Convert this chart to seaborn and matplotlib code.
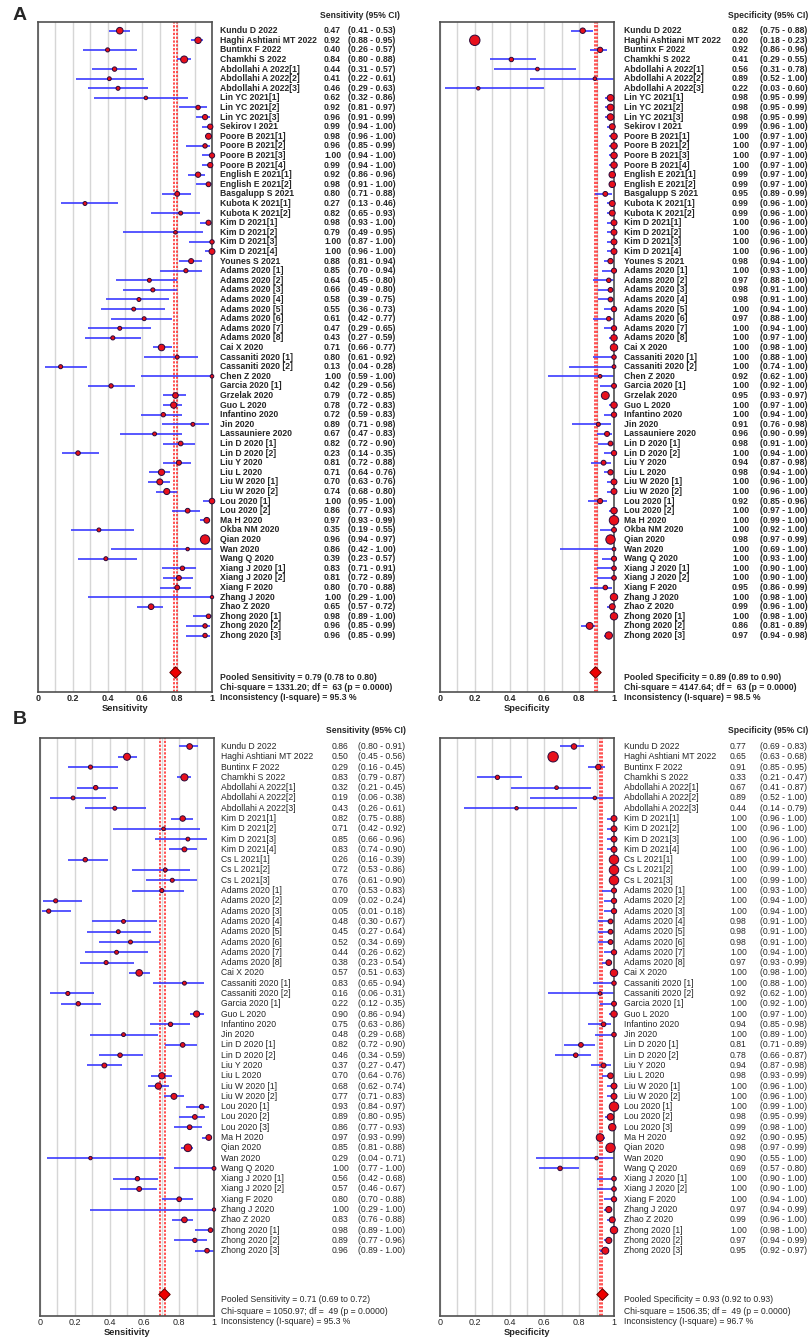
import numpy as np
import matplotlib
matplotlib.use("Agg")
import matplotlib.pyplot as plt
import seaborn as sns

# ---------------- Panel A data (64 studies) ----------------
a_studies = [
    "Kundu D 2022", "Haghi Ashtiani MT 2022", "Buntinx F 2022", "Chamkhi S 2022",
    "Abdollahi A 2022[1]", "Abdollahi A 2022[2]", "Abdollahi A 2022[3]",
    "Lin YC 2021[1]", "Lin YC 2021[2]", "Lin YC 2021[3]", "Sekirov I 2021",
    "Poore B 2021[1]", "Poore B 2021[2]", "Poore B 2021[3]", "Poore B 2021[4]",
    "English E 2021[1]", "English E 2021[2]", "Basgalupp S 2021",
    "Kubota K 2021[1]", "Kubota K 2021[2]",
    "Kim D 2021[1]", "Kim D 2021[2]", "Kim D 2021[3]", "Kim D 2021[4]",
    "Younes S 2021",
    "Adams 2020 [1]", "Adams 2020 [2]", "Adams 2020 [3]", "Adams 2020 [4]",
    "Adams 2020 [5]", "Adams 2020 [6]", "Adams 2020 [7]", "Adams 2020 [8]",
    "Cai X 2020", "Cassaniti 2020 [1]", "Cassaniti 2020 [2]", "Chen Z 2020",
    "Garcia 2020 [1]", "Grzelak 2020", "Guo L 2020", "Infantino 2020", "Jin 2020",
    "Lassauniere 2020", "Lin D 2020 [1]", "Lin D 2020 [2]", "Liu Y 2020", "Liu L 2020",
    "Liu W 2020 [1]", "Liu W 2020 [2]", "Lou 2020 [1]", "Lou 2020 [2]", "Ma H 2020",
    "Okba NM 2020", "Qian 2020", "Wan 2020", "Wang Q 2020",
    "Xiang J 2020 [1]", "Xiang J 2020 [2]", "Xiang F 2020", "Zhang J 2020",
    "Zhao Z 2020", "Zhong 2020 [1]", "Zhong 2020 [2]", "Zhong 2020 [3]",
]
a_sens = [0.47, 0.92, 0.40, 0.84, 0.44, 0.41, 0.46, 0.62, 0.92, 0.96, 0.99,
          0.98, 0.96, 1.00, 0.99, 0.92, 0.98, 0.80, 0.27, 0.82,
          0.98, 0.79, 1.00, 1.00, 0.88,
          0.85, 0.64, 0.66, 0.58, 0.55, 0.61, 0.47, 0.43,
          0.71, 0.80, 0.13, 1.00, 0.42, 0.79, 0.78, 0.72, 0.89,
          0.67, 0.82, 0.23, 0.81, 0.71, 0.70, 0.74, 1.00, 0.86, 0.97,
          0.35, 0.96, 0.86, 0.39, 0.83, 0.81, 0.80, 1.00,
          0.65, 0.98, 0.96, 0.96]
a_sens_lo = [0.41, 0.88, 0.26, 0.80, 0.31, 0.22, 0.29, 0.32, 0.81, 0.91, 0.94,
             0.96, 0.85, 0.94, 0.94, 0.86, 0.91, 0.71, 0.13, 0.65,
             0.93, 0.49, 0.87, 0.96, 0.81,
             0.70, 0.45, 0.49, 0.39, 0.36, 0.42, 0.29, 0.27,
             0.66, 0.61, 0.04, 0.59, 0.29, 0.72, 0.72, 0.59, 0.71,
             0.47, 0.72, 0.14, 0.72, 0.64, 0.63, 0.68, 0.95, 0.77, 0.93,
             0.19, 0.94, 0.42, 0.23, 0.71, 0.72, 0.70, 0.29,
             0.57, 0.89, 0.85, 0.85]
a_sens_hi = [0.53, 0.95, 0.57, 0.88, 0.57, 0.61, 0.63, 0.86, 0.97, 0.99, 1.00,
             1.00, 0.99, 1.00, 1.00, 0.96, 1.00, 0.88, 0.46, 0.93,
             1.00, 0.95, 1.00, 1.00, 0.94,
             0.94, 0.80, 0.80, 0.75, 0.73, 0.77, 0.65, 0.59,
             0.77, 0.92, 0.28, 1.00, 0.56, 0.85, 0.83, 0.83, 0.98,
             0.83, 0.90, 0.35, 0.88, 0.76, 0.76, 0.80, 1.00, 0.93, 0.99,
             0.55, 0.97, 1.00, 0.57, 0.91, 0.89, 0.88, 1.00,
             0.72, 1.00, 0.99, 0.99]
a_spec = [0.82, 0.20, 0.92, 0.41, 0.56, 0.89, 0.22, 0.98, 0.98, 0.98, 0.99,
          1.00, 1.00, 1.00, 1.00, 0.99, 0.99, 0.95, 0.99, 0.99,
          1.00, 1.00, 1.00, 1.00, 0.98,
          1.00, 0.97, 0.98, 0.98, 1.00, 0.97, 1.00, 1.00,
          1.00, 1.00, 1.00, 0.92, 1.00, 0.95, 1.00, 1.00, 0.91,
          0.96, 0.98, 1.00, 0.94, 0.98, 1.00, 1.00, 0.92, 1.00, 1.00,
          1.00, 0.98, 1.00, 1.00, 1.00, 1.00, 0.95, 1.00,
          0.99, 1.00, 0.86, 0.97]
a_spec_lo = [0.75, 0.18, 0.86, 0.29, 0.31, 0.52, 0.03, 0.95, 0.95, 0.95, 0.96,
             0.97, 0.97, 0.97, 0.97, 0.97, 0.97, 0.89, 0.96, 0.96,
             0.96, 0.96, 0.96, 0.96, 0.94,
             0.93, 0.88, 0.91, 0.91, 0.94, 0.88, 0.94, 0.97,
             0.98, 0.88, 0.74, 0.62, 0.92, 0.93, 0.97, 0.94, 0.76,
             0.90, 0.91, 0.94, 0.87, 0.94, 0.96, 0.96, 0.85, 0.97, 0.99,
             0.92, 0.97, 0.69, 0.93, 0.90, 0.90, 0.86, 0.98,
             0.96, 0.98, 0.81, 0.94]
a_spec_hi = [0.88, 0.23, 0.96, 0.55, 0.78, 1.00, 0.60, 0.99, 0.99, 0.99, 1.00,
             1.00, 1.00, 1.00, 1.00, 1.00, 1.00, 0.99, 1.00, 1.00,
             1.00, 1.00, 1.00, 1.00, 1.00,
             1.00, 1.00, 1.00, 1.00, 1.00, 1.00, 1.00, 1.00,
             1.00, 1.00, 1.00, 1.00, 1.00, 0.97, 1.00, 1.00, 0.98,
             0.99, 1.00, 1.00, 0.98, 1.00, 1.00, 1.00, 0.96, 1.00, 1.00,
             1.00, 0.99, 1.00, 1.00, 1.00, 1.00, 0.99, 1.00,
             1.00, 1.00, 0.89, 0.98]

# ---------------- Panel B data (50 studies) ----------------
b_studies = [
    "Kundu D 2022", "Haghi Ashtiani MT 2022", "Buntinx F 2022", "Chamkhi S 2022",
    "Abdollahi A 2022[1]", "Abdollahi A 2022[2]", "Abdollahi A 2022[3]",
    "Kim D 2021[1]", "Kim D 2021[2]", "Kim D 2021[3]", "Kim D 2021[4]",
    "Cs L 2021[1]", "Cs L 2021[2]", "Cs L 2021[3]",
    "Adams 2020 [1]", "Adams 2020 [2]", "Adams 2020 [3]", "Adams 2020 [4]",
    "Adams 2020 [5]", "Adams 2020 [6]", "Adams 2020 [7]", "Adams 2020 [8]",
    "Cai X 2020", "Cassaniti 2020 [1]", "Cassaniti 2020 [2]", "Garcia 2020 [1]",
    "Guo L 2020", "Infantino 2020", "Jin 2020", "Lin D 2020 [1]", "Lin D 2020 [2]",
    "Liu Y 2020", "Liu L 2020", "Liu W 2020 [1]", "Liu W 2020 [2]",
    "Lou 2020 [1]", "Lou 2020 [2]", "Lou 2020 [3]", "Ma H 2020", "Qian 2020",
    "Wan 2020", "Wang Q 2020", "Xiang J 2020 [1]", "Xiang J 2020 [2]",
    "Xiang F 2020", "Zhang J 2020", "Zhao Z 2020",
    "Zhong 2020 [1]", "Zhong 2020 [2]", "Zhong 2020 [3]",
]
b_sens = [0.86, 0.50, 0.29, 0.83, 0.32, 0.19, 0.43, 0.82, 0.71, 0.85, 0.83,
          0.26, 0.72, 0.76, 0.70, 0.09, 0.05, 0.48, 0.45, 0.52, 0.44, 0.38,
          0.57, 0.83, 0.16, 0.22, 0.90, 0.75, 0.48, 0.82, 0.46,
          0.37, 0.70, 0.68, 0.77, 0.93, 0.89, 0.86, 0.97, 0.85,
          0.29, 1.00, 0.56, 0.57, 0.80, 1.00, 0.83, 0.98, 0.89, 0.96]
b_sens_lo = [0.80, 0.45, 0.16, 0.79, 0.21, 0.06, 0.26, 0.75, 0.42, 0.66, 0.74,
             0.16, 0.53, 0.61, 0.53, 0.02, 0.01, 0.30, 0.27, 0.34, 0.26, 0.23,
             0.51, 0.65, 0.06, 0.12, 0.86, 0.63, 0.29, 0.72, 0.34,
             0.27, 0.64, 0.62, 0.71, 0.84, 0.80, 0.77, 0.93, 0.81,
             0.04, 0.77, 0.42, 0.46, 0.70, 0.29, 0.76, 0.89, 0.77, 0.89]
b_sens_hi = [0.91, 0.56, 0.45, 0.87, 0.45, 0.38, 0.61, 0.88, 0.92, 0.96, 0.90,
             0.39, 0.86, 0.90, 0.83, 0.24, 0.18, 0.67, 0.64, 0.69, 0.62, 0.54,
             0.63, 0.94, 0.31, 0.35, 0.94, 0.86, 0.68, 0.90, 0.59,
             0.47, 0.76, 0.74, 0.83, 0.97, 0.95, 0.93, 0.99, 0.88,
             0.71, 1.00, 0.68, 0.67, 0.88, 1.00, 0.88, 1.00, 0.96, 1.00]
b_spec = [0.77, 0.65, 0.91, 0.33, 0.67, 0.89, 0.44, 1.00, 1.00, 1.00, 1.00,
          1.00, 1.00, 1.00, 1.00, 1.00, 1.00, 0.98, 0.98, 0.98, 1.00, 0.97,
          1.00, 1.00, 0.92, 1.00, 1.00, 0.94, 1.00, 0.81, 0.78,
          0.94, 0.98, 1.00, 1.00, 1.00, 0.98, 0.99, 0.92, 0.98,
          0.90, 0.69, 1.00, 1.00, 1.00, 0.97, 0.99, 1.00, 0.97, 0.95]
b_spec_lo = [0.69, 0.63, 0.85, 0.21, 0.41, 0.52, 0.14, 0.96, 0.96, 0.96, 0.96,
             0.99, 0.99, 0.99, 0.93, 0.94, 0.94, 0.91, 0.91, 0.91, 0.94, 0.93,
             0.98, 0.88, 0.62, 0.92, 0.97, 0.85, 0.89, 0.71, 0.66,
             0.87, 0.93, 0.96, 0.96, 0.99, 0.95, 0.98, 0.90, 0.97,
             0.55, 0.57, 0.90, 0.90, 0.94, 0.94, 0.96, 0.98, 0.94, 0.92]
b_spec_hi = [0.83, 0.68, 0.95, 0.47, 0.87, 1.00, 0.79, 1.00, 1.00, 1.00, 1.00,
             1.00, 1.00, 1.00, 1.00, 1.00, 1.00, 1.00, 1.00, 1.00, 1.00, 0.99,
             1.00, 1.00, 1.00, 1.00, 1.00, 0.98, 1.00, 0.89, 0.87,
             0.98, 0.99, 1.00, 1.00, 1.00, 0.99, 1.00, 0.95, 0.99,
             1.00, 0.80, 1.00, 1.00, 1.00, 0.99, 1.00, 1.00, 0.99, 0.97]

# pooled estimates: (estimate, lower, upper, chi-square, df, I-square)
a_sens_pooled = (0.79, 0.78, 0.80, "1331.20", 63, "95.3")
a_spec_pooled = (0.89, 0.89, 0.90, "4147.64", 63, "98.5")
b_sens_pooled = (0.71, 0.69, 0.72, "1050.97", 49, "95.3")
b_spec_pooled = (0.93, 0.92, 0.93, "1506.35", 49, "96.7")

tick_vals = [0, 0.2, 0.4, 0.6, 0.8, 1]
tick_labels = ["0", "0.2", "0.4", "0.6", "0.8", "1"]

sns.set_style("white")
plt.rcParams['font.family'] = ['Liberation Sans', 'DejaVu Sans']

W, H = 811, 1339
fig = plt.figure(figsize=(W / 100, H / 100), dpi=100)

BOX_W = 174


def make_axes(left_px, top_px, bottom_px):
    return fig.add_axes([left_px / W, 1 - bottom_px / H,
                         BOX_W / W, (bottom_px - top_px) / H])


def forest(ax, names, est, lo, hi, pooled, measure, row1_px, step_px,
           top_px, bottom_px, diamond_px, text_px, header_px, offs, weight, fs):
    n = len(names)
    rows = np.arange(1, n + 1)

    def to_row(px):
        return 1 + (px - row1_px) / step_px

    est = np.array(est)
    lo = np.array(lo)
    hi = np.array(hi)
    # approximate study size recovered from the CI width -> marker weight
    pbar = (lo + hi) / 2
    n_eff = 3.92 ** 2 * pbar * (1 - pbar) / np.clip(hi - lo, 0.01, None) ** 2
    w = n_eff ** 0.8

    ax.set_xlim(0, 1)
    ax.set_ylim(to_row(bottom_px), to_row(top_px))
    ax.set_xticks(tick_vals)
    ax.set_xticklabels(tick_labels, fontsize=fs + 0.3, fontweight=weight)
    ax.set_xticks(np.arange(0.1, 1.0, 0.2), minor=True)
    ax.set_yticks([])
    ax.tick_params(axis='x', which='both', length=0, pad=1.5)
    ax.grid(True, axis='x', which='both', color='#d6d6d6', lw=1.0, zorder=0)
    for sp in ax.spines.values():
        sp.set_color('#505050')
        sp.set_linewidth(1.2)
    ax.set_xlabel(measure, fontsize=fs + 0.5, fontweight='bold', labelpad=1)

    p_est, p_lo, p_hi, chi, df, isq = pooled
    ax.axvline(p_lo, color='#ff2020', ls=(0, (1.5, 1)), lw=1.1, zorder=1)
    ax.axvline(p_hi, color='#ff2020', ls=(0, (1.5, 1)), lw=1.1, zorder=1)

    ax.hlines(rows, lo, hi, color='#3a3aff', lw=1.4, alpha=0.85, zorder=2,
              clip_on=False)
    sns.scatterplot(x=est, y=rows, size=w, sizes=(5, 56), size_norm=(0, 250),
                    color='#e8101c', edgecolor='#2a0a3a', linewidth=0.7,
                    legend=False, ax=ax, zorder=4, clip_on=False)
    ax.scatter([p_est], [to_row(diamond_px)], marker='D', s=34,
               color='#ee0000', edgecolor='#600000', linewidth=0.7,
               zorder=5, clip_on=False)

    tr = ax.get_yaxis_transform()
    xn, xv, xc, xh = [1 + o / BOX_W for o in offs]
    for r, nm, e, l, h in zip(rows, names, est, lo, hi):
        ax.text(xn, r, nm, transform=tr, fontsize=fs, fontweight=weight,
                va='center', ha='left')
        ax.text(xv, r, f"{e:.2f}", transform=tr, fontsize=fs,
                fontweight=weight, va='center', ha='left')
        ax.text(xc, r, f"({l:.2f} - {h:.2f})", transform=tr, fontsize=fs,
                fontweight=weight, va='center', ha='left')
    ax.text(xh, to_row(header_px), f"{measure} (95% CI)", transform=tr,
            fontsize=fs, fontweight='bold', va='center', ha='right')
    lines = [f"Pooled {measure} = {p_est:.2f} ({p_lo:.2f} to {p_hi:.2f})",
             f"Chi-square = {chi}; df =  {df} (p = 0.0000)",
             f"Inconsistency (I-square) = {isq} %"]
    for px, t in zip(text_px, lines):
        ax.text(xn, to_row(px), t, transform=tr, fontsize=fs,
                fontweight=weight, va='center', ha='left')


# Panel A
axA1 = make_axes(38, 22, 692)
forest(axA1, a_studies, a_sens, a_sens_lo, a_sens_hi, a_sens_pooled,
       "Sensitivity", 30.7, 9.6, 22, 692, 672, (677, 687, 697), 15,
       (8, 112, 136, 188), 'bold', 6.2)
axA2 = make_axes(440, 22, 692)
forest(axA2, a_studies, a_spec, a_spec_lo, a_spec_hi, a_spec_pooled,
       "Specificity", 30.7, 9.6, 22, 692, 672, (677, 687, 697), 15,
       (10, 118, 146, 194), 'bold', 6.2)

# Panel B
axB1 = make_axes(40, 738, 1316)
forest(axB1, b_studies, b_sens, b_sens_lo, b_sens_hi, b_sens_pooled,
       "Sensitivity", 746.5, 10.29, 738, 1316, 1294, (1300, 1311, 1322), 731,
       (7, 118, 144, 192), 'normal', 6.2)
axB2 = make_axes(440, 738, 1316)
forest(axB2, b_studies, b_spec, b_spec_lo, b_spec_hi, b_spec_pooled,
       "Specificity", 746.5, 10.29, 738, 1316, 1294, (1300, 1311, 1322), 731,
       (10, 116, 146, 194), 'normal', 6.2)

fig.text(13 / W, 1 - 15 / H, "A", fontsize=14, fontweight='bold',
         ha='left', va='center')
fig.text(13 / W, 1 - 720 / H, "B", fontsize=14, fontweight='bold',
         ha='left', va='center')

fig.savefig("out.png", dpi=100)
